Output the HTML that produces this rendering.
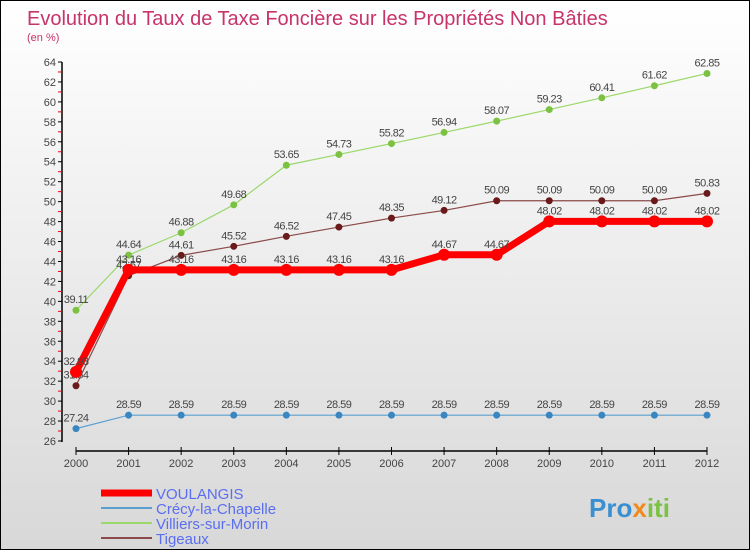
<!DOCTYPE html>
<html><head><meta charset="utf-8"><style>
body{margin:0}
#c{width:750px;height:550px;position:relative;box-sizing:border-box;border:1px solid #000;background:linear-gradient(#fff,#d8d8d8);font-family:"Liberation Sans",sans-serif;overflow:hidden}
svg{position:absolute;left:0;top:0}
</style></head><body>
<div id="c">
<svg id="s" width="750" height="550">
<text x="26" y="24" font-size="20" fill="#c8336a">Evolution du Taux de Taxe Foncière sur les Propriétés Non Bâties</text>
<text x="26" y="40" font-size="11" fill="#c8336a">(en %)</text>
<text x="588" y="516" font-size="26" font-weight="bold" fill="#3a8fd0">Pro<tspan fill="#f08a1c">x</tspan><tspan fill="#7cc242">iti</tspan></text>
</svg>
</div>
<script>
const years=[2000,2001,2002,2003,2004,2005,2006,2007,2008,2009,2010,2011,2012];
const voulangis=[32.93,43.16,43.16,43.16,43.16,43.16,43.16,44.67,44.67,48.02,48.02,48.02,48.02];
const crecy=[27.24,28.59,28.59,28.59,28.59,28.59,28.59,28.59,28.59,28.59,28.59,28.59,28.59];
const villiers=[39.11,44.64,46.88,49.68,53.65,54.73,55.82,56.94,58.07,59.23,60.41,61.62,62.85];
const tigeaux=[31.54,42.57,44.61,45.52,46.52,47.45,48.35,49.12,50.09,50.09,50.09,50.09,50.83];
const yTicks=[26,28,30,32,34,36,38,40,42,44,46,48,50,52,54,56,58,60,62,64];
const NS='http://www.w3.org/2000/svg';
const s=document.getElementById('s');
const X=i=>75+i*(706-75)/(years.length-1);
const Y=v=>440-(v-26)*(440-61)/38;
function mk(t,a){const e=document.createElementNS(NS,t);for(const k in a)e.setAttribute(k,a[k]);s.appendChild(e);return e;}
let e=mk('line',{x1:61,y1:61,x2:61,y2:441,stroke:'#000','stroke-width':1.5});


yTicks.forEach((v,k)=>{
 mk('line',{x1:57,x2:61,y1:Y(v),y2:Y(v),stroke:'#000'});
 if(k<yTicks.length-1) mk('line',{x1:57,x2:61,y1:Y(v+1),y2:Y(v+1),stroke:'#e00'});
 const t=mk('text',{x:55,y:Y(v)+4,'font-size':11,fill:'#444','text-anchor':'end'});t.textContent=v;
 
 
});
e=mk('line',{x1:75,y1:450,x2:706,y2:450,stroke:'#000','stroke-width':1.5});


years.forEach((y,i)=>{
 mk('line',{x1:X(i),x2:X(i),y1:446,y2:454,stroke:'#000'});
 const t=mk('text',{x:X(i),y:466,'font-size':11,fill:'#444','text-anchor':'middle'});t.textContent=y;
 
 
});
const series=[
 {n:'crecy',d:crecy,c:'#5b9fd0',w:1.2,r:3.5,pc:'#3a86c0'},
 {n:'villiers',d:villiers,c:'#9bd86a',w:1.2,r:3.5,pc:'#7cc242'},
 {n:'tigeaux',d:tigeaux,c:'#8a4a4a',w:1.2,r:3.5,pc:'#6a1a1a'},
 {n:'voulangis',d:voulangis,c:'#f00',w:7,r:6,pc:'#f00'}
];
series.forEach(se=>{
 const p=mk('polyline',{points:se.d.map((v,i)=>X(i)+','+Y(v)).join(' '),fill:'none',stroke:se.c,'stroke-width':se.w});
 
 
 se.d.forEach((v,i)=>{
  const c=mk('circle',{cx:X(i),cy:Y(v),r:se.r,fill:se.pc});
  
  
  const t=mk('text',{x:X(i),y:Y(v)-7,'font-size':11,fill:'#444','text-anchor':'middle','letter-spacing':'-0.5'});t.textContent=v;
  
  
 });
});
const leg=[['VOULANGIS','#f00',7],['Crécy-la-Chapelle','#5b9fd0',2],['Villiers-sur-Morin','#9bd86a',2],['Tigeaux','#8a4a4a',2]];
leg.forEach((l,i)=>{
 const y=492+i*15;
 mk('line',{x1:100,x2:151,y1:y,y2:y,stroke:l[1],'stroke-width':l[2]});
 const t=mk('text',{x:155,y:y+6,'font-size':15,fill:'#5a6ef0'});t.textContent=l[0];
 
 
});
</script>
</body></html>
